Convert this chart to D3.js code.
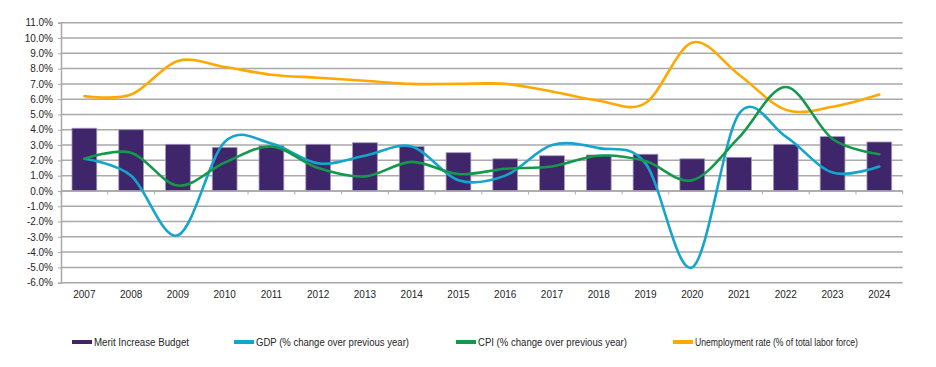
<!DOCTYPE html>
<html>
<head>
<meta charset="utf-8">
<script src="https://cdn.jsdelivr.net/npm/d3@7"></script>
<style>
  html, body { margin: 0; padding: 0; background: #fff; }
  svg { display: block; font-family: "Liberation Sans", Arial, sans-serif; }
</style>
</head>
<body>
<svg id="chart" width="936" height="367"></svg>
<script>
const years = ["2007","2008","2009","2010","2011","2012","2013","2014","2015","2016","2017","2018","2019","2020","2021","2022","2023","2024"];
const merit = [4.1, 4.0, 3.05, 2.85, 2.95, 3.05, 3.15, 2.9, 2.5, 2.1, 2.3, 2.35, 2.4, 2.1, 2.2, 3.05, 3.55, 3.2];
const gdp = [2.1, 1.0, -2.9, 3.2, 3.1, 1.8, 2.3, 2.9, 0.7, 1.0, 3.0, 2.8, 1.8, -5.0, 5.05, 3.55, 1.2, 1.6];
const cpi = [2.1, 2.5, 0.35, 1.85, 2.9, 1.5, 0.95, 1.9, 1.1, 1.45, 1.6, 2.3, 1.95, 0.7, 3.5, 6.8, 3.4, 2.4];
const unemployment = [6.2, 6.3, 8.5, 8.1, 7.6, 7.4, 7.2, 7.0, 7.0, 7.0, 6.5, 5.9, 5.75, 9.7, 7.6, 5.3, 5.5, 6.3];
const yTicks = [11,10,9,8,7,6,5,4,3,2,1,0,-1,-2,-3,-4,-5,-6];
const legendLabels = ["Merit Increase Budget","GDP (% change over previous year)","CPI (% change over previous year)","Unemployment rate (% of total labor force)"];

const colors = { merit: "#3f2569", gdp: "#14a5cc", cpi: "#13994c", unemp: "#ffa800" };

const svg = d3.select("#chart");
const mLeft = 61, mRight = 902.7, mTop = 22.7, mBottom = 282.7;

const x = d3.scaleBand().domain(years).range([mLeft, mRight]).paddingInner(0.47).paddingOuter(0.235);
const xc = d3.scaleBand().domain(years).range([mLeft, mRight]);
const y = d3.scaleLinear().domain([-6, 11]).range([mBottom, mTop]);

// gridlines
svg.append("g").selectAll("line").data(yTicks).join("line")
  .attr("x1", mLeft).attr("x2", mRight)
  .attr("y1", d => y(d)).attr("y2", d => y(d))
  .attr("stroke", "#a9a9a9").attr("stroke-width", 1.5);

// y axis
const yAxis = svg.append("g").attr("transform", `translate(${mLeft},0)`)
  .call(d3.axisLeft(y).tickValues(yTicks).tickSize(3).tickPadding(5).tickFormat(d => d.toFixed(1) + "%"));
yAxis.select(".domain").attr("stroke", "#a9a9a9").attr("stroke-width", 1.5);
yAxis.selectAll(".tick line").attr("stroke", "#a9a9a9");
yAxis.selectAll("text").attr("font-size", 10).attr("fill", "#262626")
  .attr("font-family", "Liberation Sans, Arial, sans-serif");

// bars
svg.append("g").selectAll("rect").data(years).join("rect")
  .attr("x", d => x(d))
  .attr("width", x.bandwidth())
  .attr("y", (d, i) => y(Math.max(0, merit[i])))
  .attr("height", (d, i) => Math.abs(y(merit[i]) - y(0)))
  .attr("fill", colors.merit)
  .attr("stroke", "#a497c0").attr("stroke-width", 0.8);

// category axis at zero with ticks between categories
const zeroG = svg.append("g");
zeroG.append("line").attr("x1", mLeft).attr("x2", mRight).attr("y1", y(0)).attr("y2", y(0))
  .attr("stroke", "#a9a9a9").attr("stroke-width", 1.5);
const bounds = years.map(d => xc(d)).concat([mRight]);
zeroG.selectAll("line.tk").data(bounds).join("line").attr("class", "tk")
  .attr("x1", d => d).attr("x2", d => d).attr("y1", y(0)).attr("y2", y(0) + 3.5)
  .attr("stroke", "#a9a9a9").attr("stroke-width", 1);

// x labels at bottom
svg.append("g").selectAll("text").data(years).join("text")
  .attr("x", d => xc(d) + xc.bandwidth() / 2)
  .attr("y", 298)
  .attr("text-anchor", "middle")
  .attr("font-size", 10).attr("fill", "#262626")
  .text(d => d);

// lines
const line = d3.line()
  .x((d, i) => xc(years[i]) + xc.bandwidth() / 2)
  .y(d => y(d))
  .curve(d3.curveCardinal.tension(0));

[[unemployment, colors.unemp], [gdp, colors.gdp], [cpi, colors.cpi]].forEach(([vals, c]) => {
  svg.append("path").datum(vals).attr("d", line)
    .attr("fill", "none").attr("stroke", c).attr("stroke-width", 2.6)
    .attr("stroke-linejoin", "round").attr("stroke-linecap", "round");
});

// legend
const legendX = [72, 234, 456, 673];
const legendW = [95, 153, 149, 163];
const legendColors = [colors.merit, colors.gdp, colors.cpi, colors.unemp];
const lg = svg.append("g");
legendLabels.forEach((lab, i) => {
  lg.append("line").attr("x1", legendX[i]).attr("x2", legendX[i] + 20)
    .attr("y1", 342).attr("y2", 342)
    .attr("stroke", legendColors[i]).attr("stroke-width", 4);
  lg.append("text").attr("x", legendX[i] + 22).attr("y", 345.5)
    .attr("font-size", 10).attr("fill", "#262626")
    .attr("textLength", legendW[i]).attr("lengthAdjust", "spacingAndGlyphs")
    .text(lab);
});
</script>
</body>
</html>
